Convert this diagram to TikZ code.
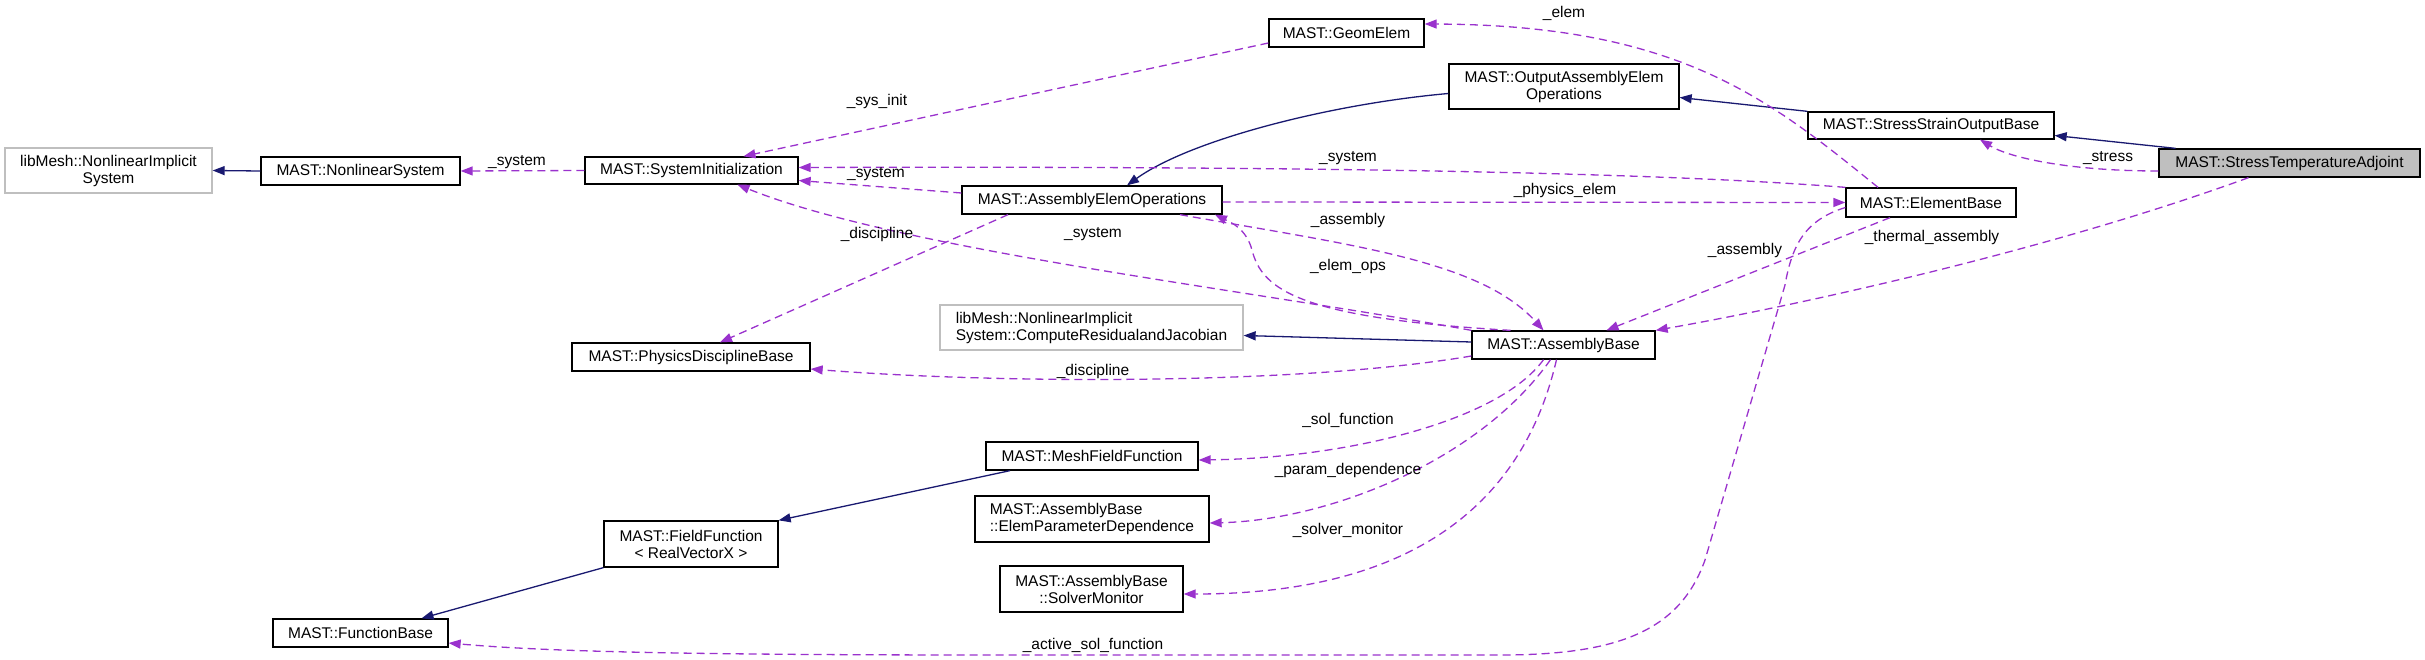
\documentclass[tikz,border=0pt]{standalone}
\usepackage{fontspec}
\setmainfont{Liberation Sans}
\usetikzlibrary{arrows.meta}
\definecolor{dox}{HTML}{9A32CD}
\definecolor{inh}{HTML}{191970}
\definecolor{ext}{HTML}{BFBFBF}
\definecolor{cur}{HTML}{BFBFBF}
\begin{document}
\begin{tikzpicture}[x=1pt,y=-1pt,
  font=\fontsize{15.5}{17}\selectfont,
  box/.style={draw=black, line width=1.3pt, fill=white, inner sep=0pt, align=center},
  extbox/.style={box, draw=ext},
  use/.style={draw=dox, line width=1.3pt, dash pattern=on 8pt off 5pt, -{Triangle[length=12pt,width=9pt]}},
  inherit/.style={draw=inh, line width=1.3pt, -{Triangle[length=12pt,width=9pt]}},
  lbl/.style={inner sep=0pt}]
\useasboundingbox (0,0) rectangle (2425,660);
% nodes
\node[extbox, minimum width=207pt, minimum height=45pt] (libNLI) at (108.5,170.5) {libMesh::NonlinearImplicit\\System};
\node[box, minimum width=199pt, minimum height=28pt] (NLS) at (360.5,171) {MAST::NonlinearSystem};
\node[box, minimum width=213pt, minimum height=27pt] (SysInit) at (691.5,170.5) {MAST::SystemInitialization};
\node[box, minimum width=260pt, minimum height=28pt] (AEO) at (1092,200) {MAST::AssemblyElemOperations};
\node[box, minimum width=155pt, minimum height=28pt] (GeomElem) at (1346.5,33) {MAST::GeomElem};
\node[box, minimum width=230pt, minimum height=45pt] (OAEO) at (1564,86.5) {MAST::OutputAssemblyElem\\Operations};
\node[box, minimum width=246pt, minimum height=27pt] (SSOB) at (1931,125.5) {MAST::StressStrainOutputBase};
\node[box, fill=cur, minimum width=261pt, minimum height=28pt] (STA) at (2289.5,163) {MAST::StressTemperatureAdjoint};
\node[box, minimum width=170pt, minimum height=29pt] (EB) at (1931,202.5) {MAST::ElementBase};
\node[box, minimum width=183pt, minimum height=28pt] (AB) at (1563.5,345) {MAST::AssemblyBase};
\node[extbox, align=left, minimum width=303pt, minimum height=45pt] (CR) at (1091.5,327.5) {libMesh::NonlinearImplicit\\System::ComputeResidualandJacobian};
\node[box, minimum width=238pt, minimum height=28pt] (PDB) at (691,357) {MAST::PhysicsDisciplineBase};
\node[box, minimum width=212pt, minimum height=28pt] (MeshFF) at (1092,456) {MAST::MeshFieldFunction};
\node[box, align=left, minimum width=234pt, minimum height=46pt] (EPD) at (1092,519) {MAST::AssemblyBase\\::ElemParameterDependence};
\node[box, minimum width=183pt, minimum height=46pt] (SM) at (1091.5,589) {MAST::AssemblyBase\\::SolverMonitor};
\node[box, minimum width=174pt, minimum height=46pt] (FF) at (691,544) {MAST::FieldFunction\\< RealVectorX >};
\node[box, minimum width=175pt, minimum height=28pt] (FB) at (360.5,633) {MAST::FunctionBase};
% inheritance
\draw[inherit] (NLS.west) -- (libNLI.east);
\draw[inherit] (SSOB.north west) -- ([yshift=-11pt]OAEO.east);
\draw[inherit] ([xshift=-114pt]STA.north) -- ([yshift=-10pt]SSOB.east);
\draw[inherit] ([yshift=-7pt]OAEO.west) .. controls (1330,104) and (1190,140) .. ([xshift=35pt]AEO.north);
\draw[inherit] ([yshift=3pt]AB.west) -- ([yshift=-8pt]CR.east);
\draw[inherit] ([xshift=-82pt]MeshFF.south) -- (FF.north east);
\draw[inherit] (FF.south west) -- ([xshift=61pt]FB.north);
% usage
\draw[use] (SysInit.west) -- (NLS.east);
\draw[use] ([yshift=-10pt]GeomElem.west) -- ([xshift=52pt]SysInit.north);
\draw[use] ([yshift=7pt]AEO.west) -- ([yshift=-10pt]SysInit.east);
\draw[use] (EB.north west) .. controls (1650,172) and (1300,166) .. ([yshift=3pt]SysInit.east);
\draw[use] (AB.north west) .. controls (1250,290) and (900,250) .. ([xshift=46pt]SysInit.south);
\draw[use] ([xshift=-84pt]AEO.south) -- ([xshift=29pt]PDB.north);
\draw[use] ([yshift=-11pt]AB.west) .. controls (1300,385) and (1000,384) .. ([yshift=-12pt]PDB.east);
\draw[use] ([yshift=-2pt]AEO.east) -- (EB.west);
\draw[use] ([xshift=88pt]AEO.south) .. controls (1350,245) and (1480,260) .. ([xshift=-20pt]AB.north);
\draw[use] ([xshift=-53pt]AB.north) .. controls (1300,318) and (1262,290) .. (1252,250) .. controls (1246,228) and (1230,222) .. ([xshift=123pt]AEO.south);
\draw[use] ([xshift=-41pt]EB.south) -- ([xshift=43pt]AB.north);
\draw[use] ([xshift=-41pt]STA.south) .. controls (2050,250) and (1800,305) .. (AB.north east);
\draw[use] ([yshift=-8pt]STA.west) .. controls (2070,171) and (2010,158) .. ([xshift=49pt]SSOB.south);
\draw[use] ([xshift=-53pt]EB.north) .. controls (1770,100) and (1680,25) .. ([yshift=9pt]GeomElem.east);
\draw[use] ([yshift=-5pt]EB.west) .. controls (1805,220) and (1792,245) .. (1785,285) -- (1705,560) .. controls (1680,630) and (1620,655) .. (1500,655) -- (1000,655) .. controls (700,655) and (550,652) .. ([yshift=-10pt]FB.east);
\draw[use] ([xshift=-20pt]AB.south) .. controls (1500,420) and (1350,458) .. ([yshift=-4pt]MeshFF.east);
\draw[use] ([xshift=-13pt]AB.south) .. controls (1480,460) and (1330,520) .. ([yshift=-4pt]EPD.east);
\draw[use] ([xshift=-7pt]AB.south) .. controls (1510,560) and (1330,594) .. ([yshift=-5pt]SM.east);
% labels
\node[lbl] (l1) at (517,162) {\_system};
\node[lbl] (l2) at (877,101) {\_sys\_init};
\node[lbl] (l3) at (876,174) {\_system};
\node[lbl] (l4) at (1348,158) {\_system};
\node[lbl] (l5) at (1093,234) {\_system};
\node[lbl] (l6) at (877,234) {\_discipline};
\node[lbl] (l7) at (1093,371) {\_discipline};
\node[lbl] (l8) at (1565,190) {\_physics\_elem};
\node[lbl] (l9) at (1348,220) {\_assembly};
\node[lbl] (l10) at (1348,266) {\_elem\_ops};
\node[lbl] (l11) at (1745,250) {\_assembly};
\node[lbl] (l12) at (1932,237) {\_thermal\_assembly};
\node[lbl] (l13) at (2108,158) {\_stress};
\node[lbl] (l14) at (1564,13) {\_elem};
\node[lbl] (l15) at (1093,645) {\_active\_sol\_function};
\node[lbl] (l16) at (1348,420) {\_sol\_function};
\node[lbl] (l17) at (1348,470) {\_param\_dependence};
\node[lbl] (l18) at (1348,530) {\_solver\_monitor};
\end{tikzpicture}
\end{document}
